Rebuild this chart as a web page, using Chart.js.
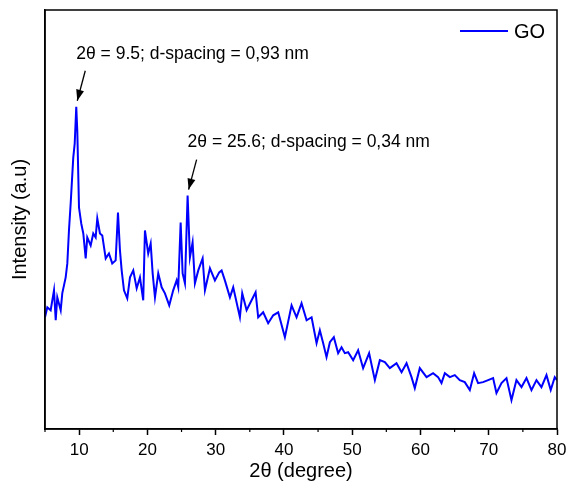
<!DOCTYPE HTML>
<html>
<head>
  <meta charset="UTF-8">
  <script src="https://cdn.jsdelivr.net/npm/chart.js"></script>
  <style>
    html, body { margin: 0; padding: 0; background: #fff; }
    .chart-container { width: 570px; height: 488px; }
  </style>
</head>
<body>
  <div class="chart-container">
    <canvas id="xrdChart"></canvas>
  </div>

<script>
  // 2θ positions (degree) and intensity (a.u.)
  const twoTheta = [
    5.00, 5.34, 5.83, 6.32, 6.57, 6.80, 7.30, 7.53, 8.03, 8.27, 8.51, 8.76, 9.14, 9.35, 9.58, 9.73,
    9.98, 10.31, 10.61, 10.96, 11.19, 11.69, 12.07, 12.42, 12.66, 13.05, 13.39, 13.89, 14.37, 14.85,
    15.35, 15.69, 15.98, 16.23, 16.57, 17.05, 17.45, 17.93, 18.43, 18.91, 19.39, 19.64, 20.12, 20.48,
    20.77, 21.11, 21.59, 22.09, 22.57, 23.20, 23.78, 24.28, 24.52, 24.87, 25.16, 25.50, 25.89, 26.23,
    26.62, 26.96, 27.45, 28.09, 28.43, 29.16, 29.89, 30.52, 30.87, 31.35, 32.09, 32.57, 33.55, 33.89,
    34.53, 35.26, 35.85, 36.23, 36.96, 37.69, 38.43, 39.16, 40.14, 41.12, 41.85, 42.58, 43.32, 44.05,
    44.78, 45.26, 45.75, 46.24, 46.73, 47.31, 47.94, 48.44, 48.92, 49.41, 50.14, 50.87, 51.60, 52.48,
    53.32, 54.05, 54.78, 55.51, 56.49, 57.23, 57.96, 58.69, 59.17, 59.90, 60.89, 61.85, 62.58, 63.08,
    63.57, 64.30, 65.03, 65.76, 66.49, 67.23, 67.86, 68.44, 69.17, 69.91, 70.64, 71.13, 71.87, 72.60,
    73.33, 74.06, 74.80, 75.53, 76.26, 76.99, 77.72, 78.46, 79.08, 79.67, 80.00
  ];
  const intensityGO = [
    112, 122, 119, 139, 109, 132, 119, 136, 152, 166, 199, 226, 272, 286, 323, 299,
    222, 206, 196, 171, 192, 184, 196, 192, 211, 196, 194, 171, 176, 166,
    169, 217, 179, 159, 139, 131, 152, 159, 141, 152, 129, 199, 176, 186,
    156, 132, 156, 142, 136, 124, 139, 149, 142, 207, 156, 146, 234, 172,
    187, 146, 159, 171, 139, 161, 149, 157, 159, 149, 132, 142, 112, 136,
    119, 129, 137, 112, 117, 106, 114, 117, 92, 124, 112, 126, 109, 112,
    86, 99, 86, 72, 87, 92, 76, 82, 76, 77, 69, 79, 61, 76,
    49, 69, 67, 61, 66, 57, 66, 52, 41, 61, 52, 56, 52, 46,
    56, 52, 54, 49, 47, 39, 56, 46, 47, 49, 51, 36, 46, 51,
    29, 49, 42, 51, 39, 49, 42, 54, 39, 52, 49
  ];

  // annotated peaks
  const peakLabels = ['2θ = 9.5; d-spacing = 0,93 nm', '2θ = 25.6; d-spacing = 0,34 nm'];
  const peakX = [9.58, 25.89];
  const peakY = [323, 234];

  const seriesName = 'GO';
  const lineColor = '#0000ff';
  const fontFamily = '"Liberation Sans", Arial, sans-serif';

  const xrdPlugin = {
    id: 'xrdDecor',
    afterDraw(chart) {
      const ctx = chart.ctx;
      const area = chart.chartArea;
      const xs = chart.scales.x;
      const ys = chart.scales.y;
      ctx.save();

      // frame
      ctx.strokeStyle = '#000';
      ctx.lineWidth = 1.5;
      ctx.strokeRect(area.left, area.top, area.right - area.left, area.bottom - area.top);

      // minor ticks
      ctx.lineWidth = 1.2;
      for (let v = 5; v < 80; v += 10) {
        const px = xs.getPixelForValue(v);
        ctx.beginPath();
        ctx.moveTo(px, area.bottom);
        ctx.lineTo(px, area.bottom + 3);
        ctx.stroke();
      }

      // peak annotations with arrows
      ctx.font = '17.5px ' + fontFamily;
      ctx.fillStyle = '#000';
      ctx.textBaseline = 'middle';
      ctx.textAlign = 'left';
      peakLabels.forEach((label, i) => {
        const tipX = xs.getPixelForValue(peakX[i]) + 1;
        const tipY = ys.getPixelForValue(peakY[i]) - 6;
        const tailX = tipX + 8;
        const tailY = tipY - 30;
        ctx.fillText(label, tipX - 1, tipY - 47);
        ctx.lineWidth = 1.3;
        ctx.beginPath();
        ctx.moveTo(tailX, tailY);
        ctx.lineTo(tipX, tipY);
        ctx.stroke();
        const ang = Math.atan2(tipY - tailY, tipX - tailX);
        ctx.beginPath();
        ctx.moveTo(tipX, tipY);
        ctx.lineTo(tipX - 11 * Math.cos(ang) + 4 * Math.sin(ang), tipY - 11 * Math.sin(ang) - 4 * Math.cos(ang));
        ctx.lineTo(tipX - 11 * Math.cos(ang) - 4 * Math.sin(ang), tipY - 11 * Math.sin(ang) + 4 * Math.cos(ang));
        ctx.closePath();
        ctx.fill();
      });

      // legend
      ctx.strokeStyle = lineColor;
      ctx.lineWidth = 1.8;
      ctx.beginPath();
      ctx.moveTo(area.right - 97, area.top + 21);
      ctx.lineTo(area.right - 49, area.top + 21);
      ctx.stroke();
      ctx.font = '20px ' + fontFamily;
      ctx.fillText(seriesName, area.right - 43, area.top + 22);

      ctx.restore();
    }
  };

  function initializeChart() {
    const ctx = document.getElementById('xrdChart').getContext('2d');
    new Chart(ctx, {
      type: 'line',
      data: {
        datasets: [{
          label: seriesName,
          data: twoTheta.map((t, i) => ({ x: t, y: intensityGO[i] })),
          borderColor: lineColor,
          borderWidth: 2,
          pointRadius: 0,
          tension: 0,
          fill: false
        }]
      },
      options: {
        responsive: true,
        maintainAspectRatio: false,
        animation: false,
        layout: { padding: { top: 10, right: 13, left: 0, bottom: 0 } },
        plugins: {
          legend: { display: false },
          tooltip: { enabled: false }
        },
        scales: {
          x: {
            type: 'linear',
            min: 5,
            max: 80,
            afterFit: (s) => { s.height = 59; s.paddingRight = 0; },
            ticks: {
              stepSize: 5,
              autoSkip: false,
              maxRotation: 0,
              padding: 5,
              color: '#000',
              font: { family: fontFamily, size: 17 },
              callback: (v) => (v % 10 === 0 ? v : '')
            },
            grid: {
              drawOnChartArea: false,
              tickLength: 6,
              tickWidth: 1.5,
              tickColor: (c) => (c.tick && c.tick.value % 10 === 0 ? '#000' : 'rgba(0,0,0,0)')
            },
            border: { display: true, color: '#000', width: 1.5 },
            title: {
              display: true,
              text: '2θ (degree)',
              color: '#000',
              font: { family: fontFamily, size: 20 },
              padding: { top: 0, bottom: 5 }
            }
          },
          y: {
            min: 0,
            max: 420,
            afterFit: (s) => { s.width = 45; },
            ticks: { display: false },
            grid: { display: false },
            border: { display: true, color: '#000', width: 1.5 },
            title: {
              display: true,
              text: 'Intensity (a.u)',
              color: '#000',
              font: { family: fontFamily, size: 20 },
              padding: { top: 8, bottom: 0 }
            }
          }
        }
      },
      plugins: [xrdPlugin]
    });
  }

  window.onload = () => {
    initializeChart();
  };
</script>
</body>
</html>
